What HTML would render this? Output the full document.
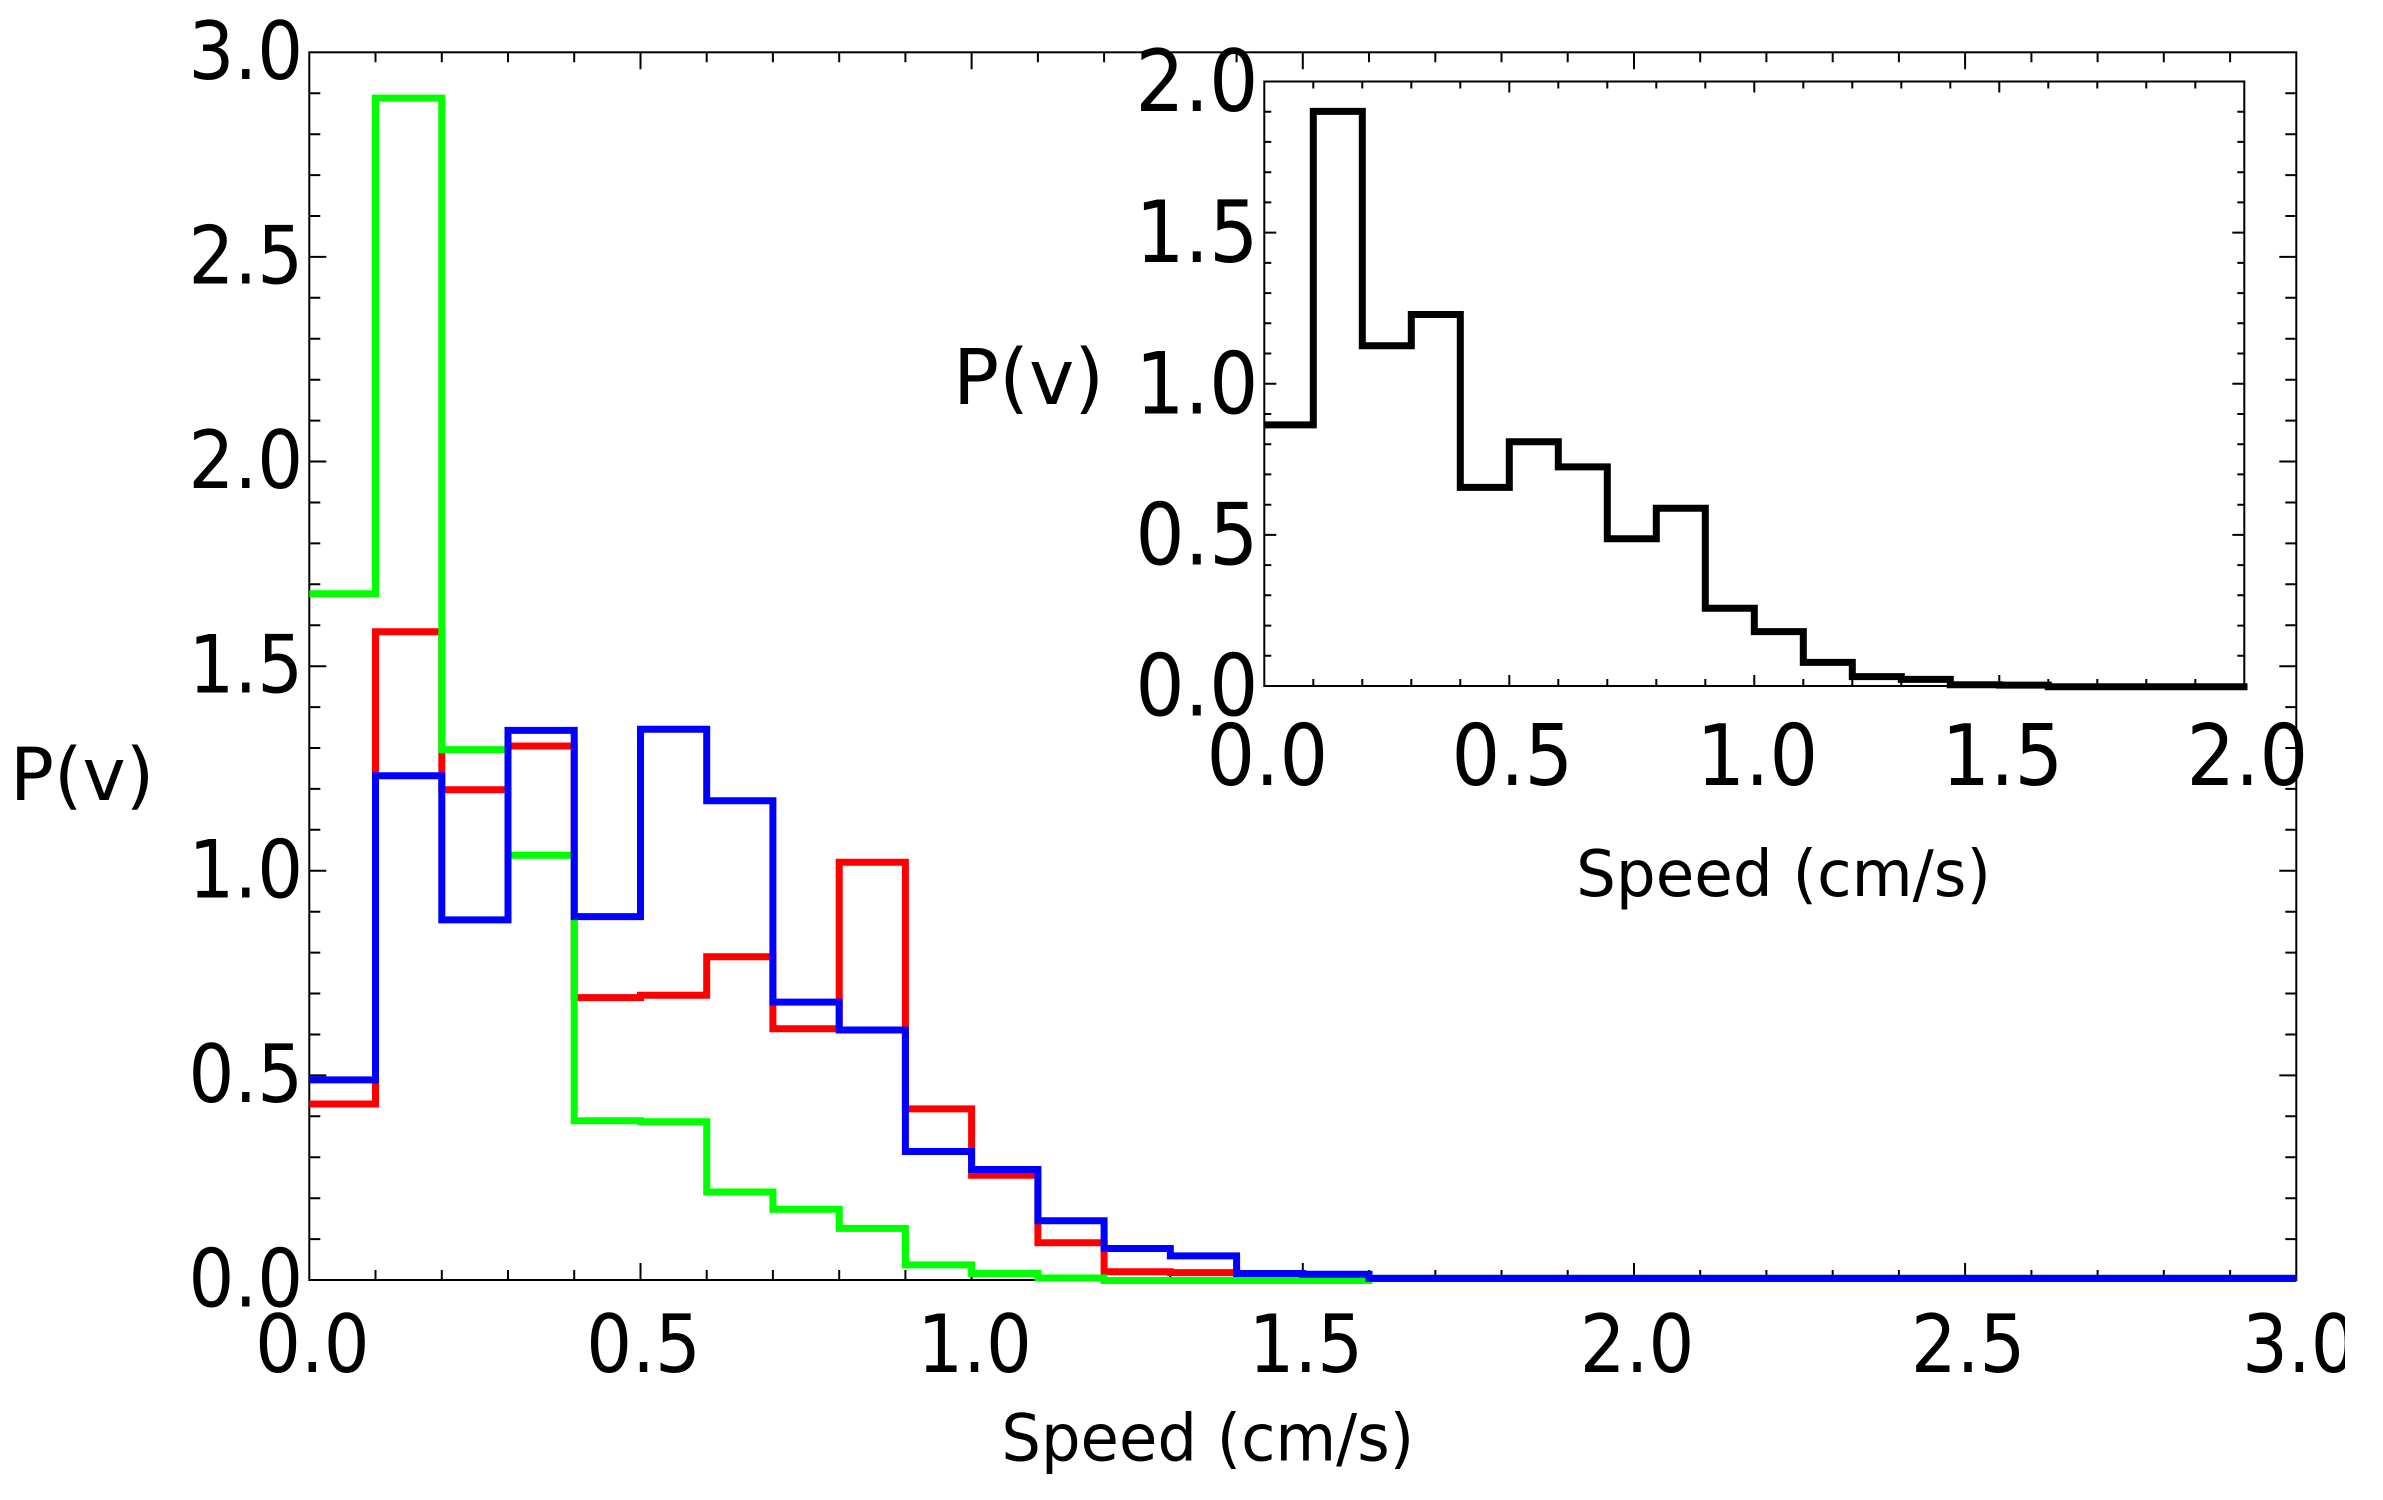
<!DOCTYPE html>
<html>
<head>
<meta charset="utf-8">
<style>
html,body{margin:0;padding:0;background:#fff;}
svg{display:block;}
text{font-family:"DejaVu Sans","Liberation Sans",sans-serif;fill:#000;}
</style>
</head>
<body>
<svg width="2383" height="1500" viewBox="0 0 2383 1500" xmlns="http://www.w3.org/2000/svg">
<defs>
<clipPath id="cl"><rect x="0" y="0" width="2345" height="1500"/></clipPath>
</defs>
<rect x="0" y="0" width="2383" height="1500" fill="#fff"/>

<!-- Main axes box -->
<rect x="309.3" y="52.3" width="1987" height="1227.7" fill="none" stroke="#000" stroke-width="2"/>

<!-- Main ticks -->
<path fill="none" stroke="#000" stroke-width="2" d="
M375.5,1280v-10 M441.8,1280v-10 M508.0,1280v-10 M574.2,1280v-10 M640.5,1280v-17
M706.7,1280v-10 M772.9,1280v-10 M839.2,1280v-10 M905.4,1280v-10 M971.6,1280v-17
M1037.9,1280v-10 M1104.1,1280v-10 M1170.3,1280v-10 M1236.6,1280v-10 M1302.8,1280v-17
M1369.0,1280v-10 M1435.3,1280v-10 M1501.5,1280v-10 M1567.7,1280v-10 M1634.0,1280v-17
M1700.2,1280v-10 M1766.4,1280v-10 M1832.7,1280v-10 M1898.9,1280v-10 M1965.1,1280v-17
M2031.4,1280v-10 M2097.6,1280v-10 M2163.8,1280v-10 M2230.1,1280v-10
M375.5,52.3v10 M441.8,52.3v10 M508.0,52.3v10 M574.2,52.3v10 M640.5,52.3v17
M706.7,52.3v10 M772.9,52.3v10 M839.2,52.3v10 M905.4,52.3v10 M971.6,52.3v17
M1037.9,52.3v10 M1104.1,52.3v10 M1170.3,52.3v10 M1236.6,52.3v10 M1302.8,52.3v17
M1369.0,52.3v10 M1435.3,52.3v10 M1501.5,52.3v10 M1567.7,52.3v10 M1634.0,52.3v17
M1700.2,52.3v10 M1766.4,52.3v10 M1832.7,52.3v10 M1898.9,52.3v10 M1965.1,52.3v17
M2031.4,52.3v10 M2097.6,52.3v10 M2163.8,52.3v10 M2230.1,52.3v10
M309.3,1239.1h11 M309.3,1198.2h11 M309.3,1157.2h11 M309.3,1116.3h11 M309.3,1075.4h17
M309.3,1034.5h11 M309.3,993.5h11 M309.3,952.6h11 M309.3,911.7h11 M309.3,870.8h17
M309.3,829.8h11 M309.3,788.9h11 M309.3,748.0h11 M309.3,707.1h11 M309.3,666.2h17
M309.3,625.2h11 M309.3,584.3h11 M309.3,543.4h11 M309.3,502.5h11 M309.3,461.5h17
M309.3,420.6h11 M309.3,379.7h11 M309.3,338.8h11 M309.3,297.8h11 M309.3,256.9h17
M309.3,216.0h11 M309.3,175.1h11 M309.3,134.2h11 M309.3,93.2h11
M2296.3,1239.1h-11 M2296.3,1198.2h-11 M2296.3,1157.2h-11 M2296.3,1116.3h-11 M2296.3,1075.4h-17
M2296.3,1034.5h-11 M2296.3,993.5h-11 M2296.3,952.6h-11 M2296.3,911.7h-11 M2296.3,870.8h-17
M2296.3,829.8h-11 M2296.3,788.9h-11 M2296.3,748.0h-11 M2296.3,707.1h-11 M2296.3,666.2h-17
M2296.3,625.2h-11 M2296.3,584.3h-11 M2296.3,543.4h-11 M2296.3,502.5h-11 M2296.3,461.5h-17
M2296.3,420.6h-11 M2296.3,379.7h-11 M2296.3,338.8h-11 M2296.3,297.8h-11 M2296.3,256.9h-17
M2296.3,216.0h-11 M2296.3,175.1h-11 M2296.3,134.2h-11 M2296.3,93.2h-11
"/>

<!-- Main data -->
<path fill="none" stroke="#ff0000" stroke-width="7" stroke-linejoin="miter" d="M309.3,1104.0 H375.5 V631.8 H441.8 V789.7 H508.0 V746.0 H574.2 V997.6 H640.5 V995.2 H706.7 V956.7 H772.9 V1028.7 H839.2 V862.2 H905.4 V1108.9 H971.6 V1175.2 H1037.9 V1242.8 H1104.1 V1271.8 H1170.3 V1272.6 H1236.6 V1276.7 H1302.8 V1278.0 H1369.0 V1278.4 H2296.3"/>
<path fill="none" stroke="#00ff00" stroke-width="7" stroke-linejoin="miter" d="M309.3,593.7 H375.5 V98.1 H441.8 V749.6 H508.0 V855.2 H574.2 V1120.8 H640.5 V1121.8 H706.7 V1192.0 H772.9 V1209.2 H839.2 V1228.4 H905.4 V1264.9 H971.6 V1273.5 H1037.9 V1278.0 H1104.1 V1280.5 H1369.0 V1278.4 H2296.3"/>
<path fill="none" stroke="#0000ff" stroke-width="7" stroke-linejoin="miter" d="M309.3,1079.9 H375.5 V775.8 H441.8 V919.9 H508.0 V730.4 H574.2 V916.6 H640.5 V729.2 H706.7 V800.8 H772.9 V1002.1 H839.2 V1030.0 H905.4 V1151.5 H971.6 V1169.5 H1037.9 V1220.7 H1104.1 V1248.5 H1170.3 V1255.9 H1236.6 V1273.5 H1302.8 V1274.3 H1369.0 V1278.4 H2296.3"/>

<!-- Main tick labels -->
<g font-size="80" text-anchor="end">
<text transform="translate(303,1306.5) scale(0.9,1)">0.0</text>
<text transform="translate(303,1101.9) scale(0.9,1)">0.5</text>
<text transform="translate(303,897.3) scale(0.9,1)">1.0</text>
<text transform="translate(303,692.7) scale(0.9,1)">1.5</text>
<text transform="translate(303,488.0) scale(0.9,1)">2.0</text>
<text transform="translate(303,283.4) scale(0.9,1)">2.5</text>
<text transform="translate(303,78.8) scale(0.9,1)">3.0</text>
</g>
<g font-size="80" text-anchor="middle">
<text transform="translate(312.3,1372) scale(0.9,1)">0.0</text>
<text transform="translate(643.5,1372) scale(0.9,1)">0.5</text>
<text transform="translate(974.6,1372) scale(0.9,1)">1.0</text>
<text transform="translate(1305.8,1372) scale(0.9,1)">1.5</text>
<text transform="translate(1637.0,1372) scale(0.9,1)">2.0</text>
<text transform="translate(1968.1,1372) scale(0.9,1)">2.5</text>
<g clip-path="url(#cl)"><text transform="translate(2299.3,1372) scale(0.9,1)">3.0</text></g>
</g>
<text x="10" y="800" font-size="73">P(v)</text>
<text transform="translate(1207.7,1460.5) scale(0.96,1)" font-size="65" text-anchor="middle">Speed (cm/s)</text>

<!-- Inset -->
<rect x="1264.3" y="81.5" width="980" height="604.5" fill="#fff" stroke="#000" stroke-width="2"/>
<path fill="none" stroke="#000" stroke-width="2" d="
M1313.3,686v-7 M1362.3,686v-7 M1411.3,686v-7 M1460.3,686v-7 M1509.3,686v-11
M1558.3,686v-7 M1607.3,686v-7 M1656.3,686v-7 M1705.3,686v-7 M1754.3,686v-11
M1803.3,686v-7 M1852.3,686v-7 M1901.3,686v-7 M1950.3,686v-7 M1999.3,686v-11
M2048.3,686v-7 M2097.3,686v-7 M2146.3,686v-7 M2195.3,686v-7
M1313.3,81.5v7 M1362.3,81.5v7 M1411.3,81.5v7 M1460.3,81.5v7 M1509.3,81.5v11
M1558.3,81.5v7 M1607.3,81.5v7 M1656.3,81.5v7 M1705.3,81.5v7 M1754.3,81.5v11
M1803.3,81.5v7 M1852.3,81.5v7 M1901.3,81.5v7 M1950.3,81.5v7 M1999.3,81.5v11
M2048.3,81.5v7 M2097.3,81.5v7 M2146.3,81.5v7 M2195.3,81.5v7
M1264.3,655.8h7 M1264.3,625.6h7 M1264.3,595.3h7 M1264.3,565.1h7 M1264.3,534.9h12
M1264.3,504.7h7 M1264.3,474.4h7 M1264.3,444.2h7 M1264.3,414.0h7 M1264.3,383.8h12
M1264.3,353.5h7 M1264.3,323.3h7 M1264.3,293.1h7 M1264.3,262.9h7 M1264.3,232.6h12
M1264.3,202.4h7 M1264.3,172.2h7 M1264.3,141.9h7 M1264.3,111.7h7
M2244.3,655.8h-7 M2244.3,625.6h-7 M2244.3,595.3h-7 M2244.3,565.1h-7 M2244.3,534.9h-12
M2244.3,504.7h-7 M2244.3,474.4h-7 M2244.3,444.2h-7 M2244.3,414.0h-7 M2244.3,383.8h-12
M2244.3,353.5h-7 M2244.3,323.3h-7 M2244.3,293.1h-7 M2244.3,262.9h-7 M2244.3,232.6h-12
M2244.3,202.4h-7 M2244.3,172.2h-7 M2244.3,141.9h-7 M2244.3,111.7h-7
"/>
<path fill="none" stroke="#000" stroke-width="7" stroke-linejoin="miter" d="M1264.3,424.9 H1313.3 V111.4 H1362.3 V345.7 H1411.3 V314.5 H1460.3 V487.4 H1509.3 V441.8 H1558.3 V466.9 H1607.3 V538.8 H1656.3 V508.3 H1705.3 V608.3 H1754.3 V631.6 H1803.3 V662.4 H1852.3 V676.6 H1901.3 V679.4 H1950.3 V684.8 H1999.3 V685.1 H2048.3 V686.8 H2247.5"/>

<g font-size="86" text-anchor="end">
<text transform="translate(1258.4,715.5) scale(0.9,1)">0.0</text>
<text transform="translate(1258.4,564.4) scale(0.9,1)">0.5</text>
<text transform="translate(1258.4,413.3) scale(0.9,1)">1.0</text>
<text transform="translate(1258.4,262.1) scale(0.9,1)">1.5</text>
<text transform="translate(1258.4,111.0) scale(0.9,1)">2.0</text>
</g>
<g font-size="85" text-anchor="middle">
<text transform="translate(1267.3,785) scale(0.9,1)">0.0</text>
<text transform="translate(1512.3,785) scale(0.9,1)">0.5</text>
<text transform="translate(1757.3,785) scale(0.9,1)">1.0</text>
<text transform="translate(2002.3,785) scale(0.9,1)">1.5</text>
<text transform="translate(2247.3,785) scale(0.9,1)">2.0</text>
</g>
<text x="953" y="404" font-size="76.5">P(v)</text>
<text transform="translate(1783.5,896) scale(0.98,1)" font-size="64" text-anchor="middle">Speed (cm/s)</text>
</svg>
</body>
</html>
